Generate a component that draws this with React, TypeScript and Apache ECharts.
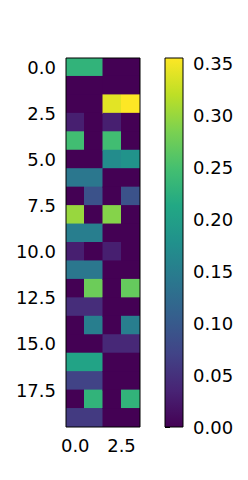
import React, { useEffect, useRef } from "react";
import * as echarts from "echarts";

const col0 = [0.23, 0, 0, 0.03, 0.245, 0, 0.14, 0, 0.30, 0.15, 0.03, 0.14, 0, 0.045, 0, 0, 0.205, 0.07, 0, 0.06];
const col1 = [0.23, 0, 0, 0, 0, 0, 0.14, 0.09, 0, 0.15, 0, 0.14, 0.275, 0.045, 0.15, 0, 0.205, 0.07, 0.23, 0.06];
const col2 = [0, 0, 0.34, 0.03, 0.245, 0.17, 0, 0, 0.29, 0, 0.03, 0, 0, 0, 0, 0.04, 0, 0, 0, 0];
const col3 = [0, 0, 0.355, 0, 0, 0.18, 0, 0.09, 0, 0, 0, 0, 0.27, 0, 0.15, 0.04, 0, 0, 0.23, 0];
const columns = [col0, col1, col2, col3];
const xTicks = [0, 2.5];
const yTicks = [0, 2.5, 5, 7.5, 10, 12.5, 15, 17.5];
const cbTicks = [0, 0.05, 0.1, 0.15, 0.2, 0.25, 0.3, 0.35];
const vmin = 0;
const vmax = 0.355;
const viridis = ["#440154", "#482475", "#414487", "#355f8d", "#2a788e", "#21918c", "#22a884", "#44bf70", "#7ad151", "#bddf26", "#fde725"];

const G0 = { left: 66, top: 58, width: 74, height: 369 };
const G1 = { left: 165, top: 58, width: 18, height: 369 };

export default function App() {
  const ref = useRef<HTMLDivElement>(null);
  useEffect(() => {
    document.body.style.margin = "0";
    const chart = echarts.init(ref.current!, null, { renderer: "svg" });
    const data: number[][] = [];
    columns.forEach((col, x) => col.forEach((v, y) => data.push([x, y, v])));
    const font = { fontFamily: "DejaVu Sans", fontSize: 18, color: "#000" };
    const nRows = col0.length;
    const tick = { show: true, length: 5, lineStyle: { color: "#000", width: 1 } };
    chart.setOption({
      animation: false,
      grid: [G0, G1],
      xAxis: [
        {
          gridIndex: 0, type: "value", min: -0.5, max: columns.length - 0.5, position: "bottom",
          axisLine: { show: false }, splitLine: { show: false },
          axisTick: { ...tick, customValues: xTicks },
          axisLabel: { ...font, margin: 9, customValues: xTicks, formatter: (v: number) => v.toFixed(1) },
        },
        { gridIndex: 1, type: "value", min: 0, max: 1, show: false },
      ],
      yAxis: [
        {
          gridIndex: 0, type: "value", min: -0.5, max: nRows - 0.5, inverse: true,
          axisLine: { show: false }, splitLine: { show: false },
          axisTick: { ...tick, customValues: yTicks },
          axisLabel: { ...font, margin: 10, customValues: yTicks, formatter: (v: number) => v.toFixed(1) },
        },
        {
          gridIndex: 1, type: "value", min: vmin, max: vmax, position: "right",
          axisLine: { show: false }, splitLine: { show: false },
          axisTick: { ...tick, customValues: cbTicks },
          axisLabel: { ...font, margin: 10, customValues: cbTicks, formatter: (v: number) => v.toFixed(2) },
        },
      ],
      visualMap: {
        show: false, type: "continuous", min: vmin, max: vmax, dimension: 2, seriesIndex: 0,
        inRange: { color: viridis },
      },
      graphic: [
        { type: "rect", z: 100, shape: { x: G0.left, y: G0.top, width: G0.width, height: G0.height }, style: { fill: "none", stroke: "#000", lineWidth: 1 } },
        { type: "rect", z: 100, shape: { x: G1.left, y: G1.top, width: G1.width, height: G1.height }, style: { fill: "none", stroke: "#000", lineWidth: 1 } },
      ],
      series: [
        {
          type: "custom", xAxisIndex: 0, yAxisIndex: 0, data,
          encode: { x: 0, y: 1 },
          clip: true,
          renderItem: (params: any, api: any) => {
            const x = api.value(0), y = api.value(1);
            const p1 = api.coord([x - 0.5, y - 0.5]);
            const p2 = api.coord([x + 0.5, y + 0.5]);
            const x0 = Math.min(p1[0], p2[0]), y0 = Math.min(p1[1], p2[1]);
            return {
              type: "rect",
              shape: { x: x0 - 0.5, y: y0 - 0.5, width: Math.abs(p2[0] - p1[0]) + 1, height: Math.abs(p2[1] - p1[1]) + 1 },
              style: { fill: api.visual("color"), stroke: null, lineWidth: 0 },
            };
          },
          z: 1,
        },
        {
          type: "custom", xAxisIndex: 1, yAxisIndex: 1, data: [[0, vmin, 1, vmax]],
          renderItem: (params: any, api: any) => {
            const p1 = api.coord([api.value(0), api.value(3)]);
            const p2 = api.coord([api.value(2), api.value(1)]);
            return {
              type: "rect",
              shape: { x: p1[0], y: p1[1], width: p2[0] - p1[0], height: p2[1] - p1[1] },
              style: {
                stroke: null,
                fill: new echarts.graphic.LinearGradient(0, 1, 0, 0,
                  viridis.map((c, i) => ({ offset: i / (viridis.length - 1), color: c }))),
              },
            };
          },
          z: 1,
        },
      ],
    });
    return () => chart.dispose();
  }, []);
  return <div ref={ref} style={{ width: 248, height: 480 }} />;
}
